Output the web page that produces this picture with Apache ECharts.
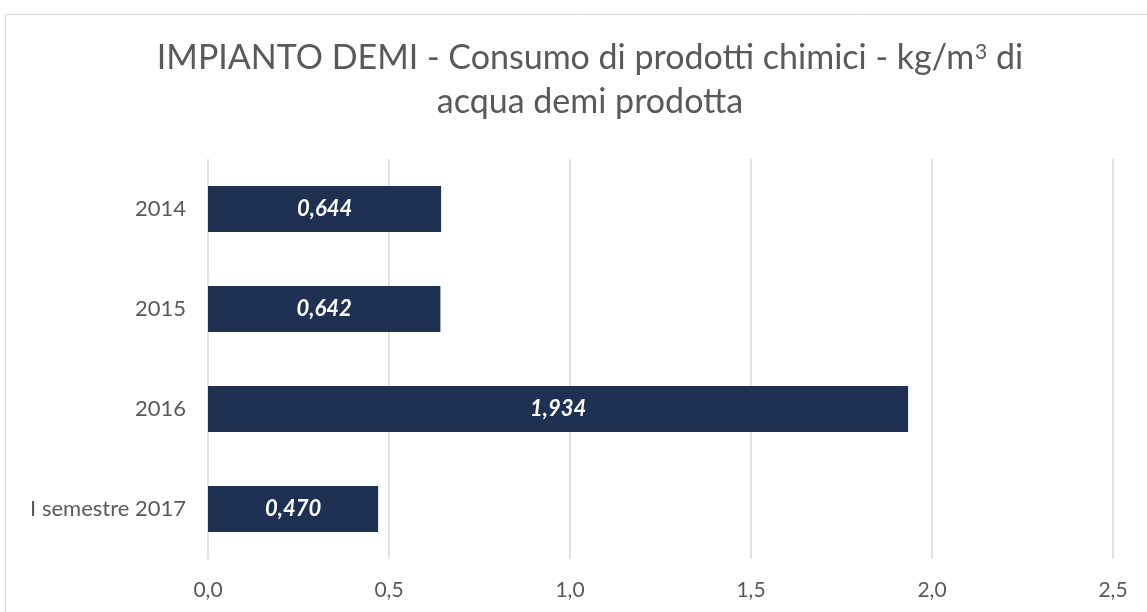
<!DOCTYPE html>
<html><head><meta charset="utf-8">
<script src="https://cdn.jsdelivr.net/npm/echarts@6/dist/echarts.min.js"></script>
<style>html,body{margin:0;padding:0;background:#fff}#c{width:1147px;height:612px}</style>
</head><body><div id="c"></div>
<script>
const categories = ['2014', '2015', '2016', 'I semestre 2017'];
const values = [0.644, 0.642, 1.934, 0.470];
const xTicks = [0, 0.5, 1.0, 1.5, 2.0, 2.5];

const chart = echarts.init(document.getElementById('c'), null, {renderer: 'canvas'});
const fmt = v => v.toFixed(1).replace('.', ',');
const FONT = 'Lato';
chart.setOption({
  animation: false,
  backgroundColor: '#fff',
  graphic: [{
    type: 'rect', shape: {x: 5.5, y: 14.5, width: 1160, height: 620},
    style: {fill: 'none', stroke: '#d9d9d9', lineWidth: 1}, silent: true, z: -1
  }],
  title: {
    left: 585, top: 31, textAlign: 'center',
    text: '{a|IMPIANTO DEMI - Consumo di prodotti chimici - kg/m}{s|3}{a| di}\n{a|acqua demi prodotta}',
    textStyle: {
      fontWeight: 'normal',
      rich: {
        a: {fontFamily: FONT, fontSize: 34, fontWeight: 'normal', color: '#595959', lineHeight: 44},
        s: {fontFamily: FONT, fontSize: 21, fontWeight: 'normal', color: '#595959', verticalAlign: 'top', lineHeight: 21, padding: [6,0,0,1]}
      }
    }
  },
  grid: {left: 208, right: 34, top: 159, bottom: 53, containLabel: false},
  xAxis: {
    type: 'value', min: xTicks[0], max: xTicks[xTicks.length - 1], interval: 0.5,
    axisLine: {show: false}, axisTick: {show: false},
    splitLine: {show: true, lineStyle: {color: '#d9d9d9', width: 1.5}},
    axisLabel: {formatter: fmt, color: '#595959', fontFamily: FONT, fontSize: 21, margin: 21}
  },
  yAxis: {
    type: 'category', data: categories, inverse: true,
    axisLine: {show: false}, axisTick: {show: false},
    axisLabel: {color: '#595959', fontFamily: FONT, fontSize: 22, margin: 22}
  },
  series: [{
    type: 'bar', data: values, barWidth: 46,
    itemStyle: {color: '#1f3152'},
    label: {
      show: true, position: 'inside', color: '#fff', fontFamily: FONT,
      fontWeight: 'bold', fontStyle: 'italic', fontSize: 22,
      formatter: p => p.value.toFixed(3).replace('.', ',')
    }
  }]
});
</script></body></html>
